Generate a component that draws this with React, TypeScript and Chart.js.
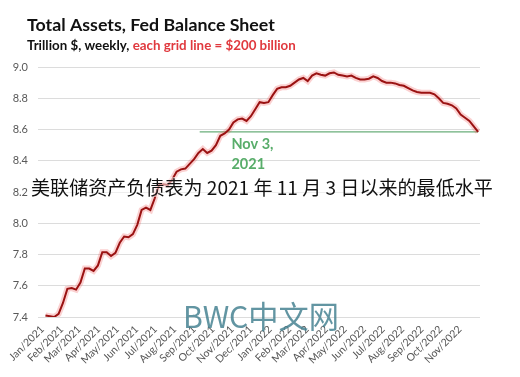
import React, { useEffect, useRef } from "react";
import Chart from "chart.js/auto";

// ---- Data ----
const START_DATE = "2021-01-06"; // first weekly observation (Wednesday)
const TOTAL_ASSETS: number[] = [
  7.41, 7.405, 7.40, 7.42, 7.49, 7.58, 7.585, 7.575, 7.62, 7.71,
  7.71, 7.695, 7.73, 7.815, 7.815, 7.79, 7.81, 7.875, 7.915, 7.91,
  7.93, 7.99, 8.085, 8.10, 8.085, 8.16, 8.245, 8.25, 8.245, 8.28,
  8.33, 8.345, 8.35, 8.38, 8.41, 8.45, 8.475, 8.45, 8.465, 8.50,
  8.56, 8.575, 8.60, 8.645, 8.665, 8.67, 8.655, 8.685, 8.73, 8.775,
  8.77, 8.775, 8.82, 8.86, 8.87, 8.87, 8.88, 8.90, 8.92, 8.93,
  8.91, 8.945, 8.96, 8.95, 8.945, 8.96, 8.965, 8.95, 8.945, 8.94,
  8.945, 8.93, 8.92, 8.92, 8.925, 8.94, 8.93, 8.91, 8.90, 8.90,
  8.895, 8.885, 8.88, 8.865, 8.85, 8.84, 8.835, 8.835, 8.835, 8.825,
  8.80, 8.77, 8.765, 8.755, 8.735, 8.695, 8.675, 8.655, 8.62, 8.585,
];
const MONTH_LABELS: string[] = [
  "Jan/2021", "Feb/2021", "Mar/2021", "Apr/2021", "May/2021", "Jun/2021",
  "Jul/2021", "Aug/2021", "Sep/2021", "Oct/2021", "Nov/2021", "Dec/2021",
  "Jan/2022", "Feb/2022", "Mar/2022", "Apr/2022", "May/2022", "Jun/2022",
  "Jul/2022", "Aug/2022", "Sep/2022", "Oct/2022", "Nov/2022",
];
const Y_TICKS: number[] = [7.4, 7.6, 7.8, 8.0, 8.2, 8.4, 8.6, 8.8, 9.0];
const REF_LEVEL = 8.585;
const REF_START = "2021-09-10";
const REF_LABEL_DATE = "2021-11-03";
const REF_LABEL_LINES = ["Nov 3,", "2021"];

const TITLE = "Total Assets, Fed Balance Sheet";
const SUB_BLACK = "Trillion $, weekly, ";
const SUB_RED = "each grid line = $200 billion";
const CAPTION = "美联储资产负债表为 2021 年 11 月 3 日以来的最低水平";
const WATERMARK = "BWC中文网";

// ---- helpers ----
const DAY = 86400000;
const ORIGIN = Date.UTC(2021, 0, 1);
const dayOf = (iso: string) => {
  const [y, m, d] = iso.split("-").map(Number);
  return (Date.UTC(y, m - 1, d) - ORIGIN) / DAY;
};
const firstDay = dayOf(START_DATE);
const seriesPoints = TOTAL_ASSETS.map((v, i) => ({ x: firstDay + 7 * i, y: v }));
const lastDay = firstDay + 7 * (TOTAL_ASSETS.length - 1);
const monthTicks = MONTH_LABELS.map((_, i) => (Date.UTC(2021, i, 1) - ORIGIN) / DAY);

const SANS = "Lato, 'Open Sans', 'Noto Sans', sans-serif";

function fitFont(ctx: CanvasRenderingContext2D, text: string, weight: string, family: string, target: number, base: number) {
  ctx.font = `${weight} ${base}px ${family}`;
  const w = ctx.measureText(text).width;
  const size = (base * target) / w;
  return `${weight} ${size.toFixed(2)}px ${family}`;
}

const overlayPlugin = {
  id: "overlayText",
  afterDraw(chart: any) {
    const ctx: CanvasRenderingContext2D = chart.ctx;
    const xs = chart.scales.x;
    const ys = chart.scales.y;
    ctx.save();
    ctx.textBaseline = "alphabetic";
    ctx.textAlign = "left";

    // Title
    ctx.fillStyle = "#111111";
    ctx.font = fitFont(ctx, TITLE, "bold", SANS, 248, 17);
    ctx.fillText(TITLE, 27, 31);

    // Subtitle (two colours)
    const full = SUB_BLACK + SUB_RED;
    ctx.font = fitFont(ctx, full, "bold", SANS, 269, 12);
    ctx.fillStyle = "#111111";
    ctx.fillText(SUB_BLACK, 27, 49.5);
    const bw = ctx.measureText(SUB_BLACK).width;
    ctx.fillStyle = "#e0393e";
    ctx.fillText(SUB_RED, 27 + bw, 49.5);

    // Reference label
    const lx = xs.getPixelForValue(dayOf(REF_LABEL_DATE)) - 2;
    const ly = ys.getPixelForValue(REF_LEVEL);
    ctx.fillStyle = "#58ad6a";
    ctx.font = `bold 14.5px ${SANS}`;
    ctx.fillText(REF_LABEL_LINES[0], lx, ly + 17);
    ctx.fillText(REF_LABEL_LINES[1], lx, ly + 37);

    // Caption with soft background
    ctx.fillStyle = "rgba(255,255,255,0.5)";
    ctx.fillRect(29, 177, 468, 20);
    ctx.fillStyle = "#111111";
    ctx.font = fitFont(ctx, CAPTION, "normal", "'Noto Sans CJK SC', sans-serif", 462, 19);
    ctx.fillText(CAPTION, 31, 195);

    // Watermark
    ctx.fillStyle = "rgba(70,130,146,0.85)";
    ctx.font = fitFont(ctx, WATERMARK, "normal", "'Noto Sans CJK SC', sans-serif", 156, 30);
    ctx.fillText(WATERMARK, 183, 328);

    ctx.restore();
  },
};

export default function App() {
  const ref = useRef<HTMLCanvasElement | null>(null);
  useEffect(() => {
    if (!ref.current) return;
    const chart = new Chart(ref.current, {
      type: "line",
      data: {
        datasets: [
          {
            label: "Total Assets",
            data: seriesPoints,
            borderColor: "#9a1212",
            borderWidth: 2,
            pointRadius: 0,
            tension: 0,
            order: 1,
          },
          {
            label: "glow",
            data: seriesPoints,
            borderColor: "rgba(240,70,70,0.25)",
            borderWidth: 6,
            pointRadius: 0,
            tension: 0,
            order: 2,
          },
          {
            label: "ref",
            data: [
              { x: dayOf(REF_START), y: REF_LEVEL },
              { x: lastDay, y: REF_LEVEL },
            ],
            borderColor: "#6aae7a",
            borderWidth: 1.3,
            pointRadius: 0,
            order: 3,
          },
        ],
      },
      options: {
        animation: false,
        responsive: false,
        devicePixelRatio: 1,
        layout: { padding: { top: 67, right: 40, bottom: 0, left: 0 } },
        plugins: {
          legend: { display: false },
          tooltip: { enabled: false },
          title: { display: false },
        },
        scales: {
          x: {
            type: "linear",
            min: -7,
            max: lastDay + 3,
            grid: { display: false, drawTicks: false },
            border: { display: false },
            afterBuildTicks: (scale: any) => {
              scale.ticks = monthTicks.map((v) => ({ value: v }));
            },
            afterFit: (scale: any) => {
              scale.height = 60;
            },
            ticks: {
              autoSkip: false,
              minRotation: 45,
              maxRotation: 45,
              padding: 6,
              color: "#555555",
              font: { family: SANS, size: 10.5 },
              callback: (_v: any, i: number) => MONTH_LABELS[i],
            },
          },
          y: {
            min: Y_TICKS[0],
            max: Y_TICKS[Y_TICKS.length - 1],
            grid: { color: "#dcdcdc", lineWidth: 1, drawTicks: false },
            border: { display: false },
            afterBuildTicks: (scale: any) => {
              scale.ticks = Y_TICKS.map((v) => ({ value: v }));
            },
            afterFit: (scale: any) => {
              scale.width = 38;
            },
            ticks: {
              padding: 10,
              color: "#595959",
              font: { family: SANS, size: 11 },
              callback: (v: any) => Number(v).toFixed(1),
            },
          },
        },
      },
      plugins: [overlayPlugin],
    } as any);
    return () => chart.destroy();
  }, []);
  return (
    <div style={{ position: "absolute", left: 0, top: 0, width: 520, height: 377, background: "#ffffff" }}>
      <canvas ref={ref} width={520} height={377} style={{ width: 520, height: 377, display: "block" }} />
    </div>
  );
}
